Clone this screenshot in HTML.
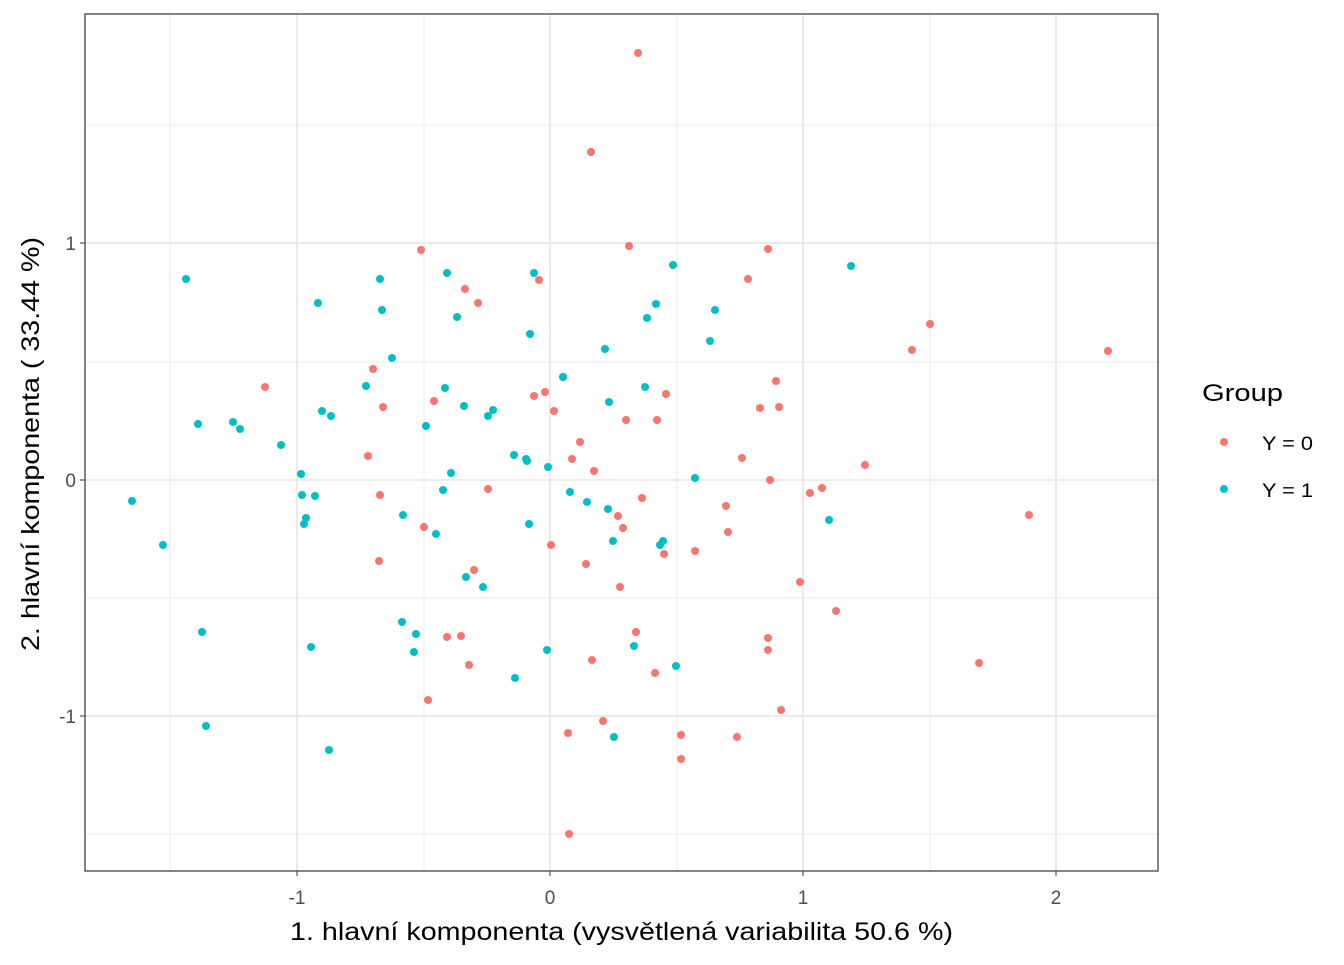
<!DOCTYPE html>
<html><head><meta charset="utf-8"><style>body{margin:0;background:#fff}</style></head><body>
<svg width="1344" height="960" xmlns="http://www.w3.org/2000/svg" font-family="Liberation Sans, sans-serif">
<rect width="1344" height="960" fill="#fff"/>
<g stroke="#ebebeb" stroke-width="1">
<line x1="170" y1="14" x2="170" y2="871"/><line x1="424" y1="14" x2="424" y2="871"/><line x1="677" y1="14" x2="677" y2="871"/><line x1="930" y1="14" x2="930" y2="871"/>
<line x1="85" y1="125" x2="1158" y2="125"/><line x1="85" y1="362" x2="1158" y2="362"/><line x1="85" y1="598" x2="1158" y2="598"/><line x1="85" y1="834" x2="1158" y2="834"/>
</g>
<g stroke="#ebebeb" stroke-width="2">
<line x1="297" y1="14" x2="297" y2="871"/><line x1="550" y1="14" x2="550" y2="871"/><line x1="803" y1="14" x2="803" y2="871"/><line x1="1056" y1="14" x2="1056" y2="871"/>
<line x1="85" y1="243" x2="1158" y2="243"/><line x1="85" y1="480" x2="1158" y2="480"/><line x1="85" y1="716" x2="1158" y2="716"/>
</g>
<g id="pts"></g>
<rect x="85" y="14" width="1073" height="857" fill="none" stroke="#333" stroke-width="1.2"/>
<g stroke="#333"><line x1="297" y1="871" x2="297" y2="876"/><line x1="550" y1="871" x2="550" y2="876"/><line x1="803" y1="871" x2="803" y2="876"/><line x1="1056" y1="871" x2="1056" y2="876"/>
<line x1="80" y1="243" x2="85" y2="243"/><line x1="80" y1="480" x2="85" y2="480"/><line x1="80" y1="716" x2="85" y2="716"/></g>
<g font-size="19" fill="#4d4d4d" text-anchor="middle"><text x="297" y="904">-1</text><text x="550" y="904">0</text><text x="803" y="904">1</text><text x="1056" y="904">2</text></g>
<g font-size="19" fill="#4d4d4d" text-anchor="end"><text x="76" y="250">1</text><text x="76" y="487">0</text><text x="76" y="723">-1</text></g>
<text x="290" y="940" font-size="25" textLength="663" lengthAdjust="spacingAndGlyphs">1. hlavní komponenta (vysvětlená variabilita 50.6 %)</text>
<text transform="translate(39,651) rotate(-90)" font-size="25" textLength="414" lengthAdjust="spacingAndGlyphs">2. hlavní komponenta ( 33.44 %)</text>
<text x="1202" y="401" font-size="24" textLength="81" lengthAdjust="spacingAndGlyphs">Group</text>
<circle cx="1224" cy="442" r="4" fill="#F8766D"/><circle cx="1224" cy="489" r="4" fill="#00BFC4"/>
<text x="1262" y="450" font-size="19" textLength="51" lengthAdjust="spacingAndGlyphs">Y = 0</text><text x="1262" y="497" font-size="19" textLength="51" lengthAdjust="spacingAndGlyphs">Y = 1</text>
</svg>
<script>
var r=[[638,53],[591,152],[421,250],[629,246],[768,249],[539,280],[465,289],[478,303],[748,279],[930,324],[912,350],[1108,351],[373,369],[265,387],[383,407],[434,401],[534,396],[545,392],[554,411],[563,377],[666,394],[776,381],[760,408],[779,407],[626,420],[657,420],[580,442],[572,459],[594,471],[742,458],[865,465],[368,456],[488,489],[380,495],[642,498],[770,480],[810,493],[822,488],[1029,515],[424,527],[618,516],[623,528],[726,506],[728,532],[551,545],[664,554],[695,551],[379,561],[586,564],[474,570],[620,587],[800,582],[836,611],[447,637],[461,636],[636,632],[768,638],[469,665],[592,660],[655,673],[768,650],[979,663],[428,700],[568,733],[603,721],[681,735],[737,737],[781,710],[681,759],[569,834]];
var c=[[186,279],[380,279],[318,303],[447,273],[534,273],[673,265],[851,266],[382,310],[457,317],[530,334],[656,304],[715,310],[647,318],[392,358],[605,349],[710,341],[366,386],[445,388],[563,377],[645,387],[609,402],[198,424],[233,422],[240,429],[322,411],[331,416],[464,406],[493,410],[488,416],[426,426],[281,445],[514,455],[526,459],[527,461],[548,467],[301,474],[451,473],[695,478],[132,501],[302,495],[315,496],[443,490],[570,492],[587,502],[608,509],[306,518],[304,524],[403,515],[436,534],[529,524],[829,520],[163,545],[613,541],[660,545],[663,541],[466,577],[483,587],[402,622],[416,634],[202,632],[311,647],[414,652],[634,646],[676,666],[515,678],[547,650],[206,726],[329,750],[614,737]];
var g=document.getElementById('pts'),s='';
r.forEach(p=>s+='<circle cx="'+p[0]+'" cy="'+p[1]+'" r="4" fill="#F8766D"/>');
c.forEach(p=>s+='<circle cx="'+p[0]+'" cy="'+p[1]+'" r="4" fill="#00BFC4"/>');
g.innerHTML=s;
</script>
</body></html>
